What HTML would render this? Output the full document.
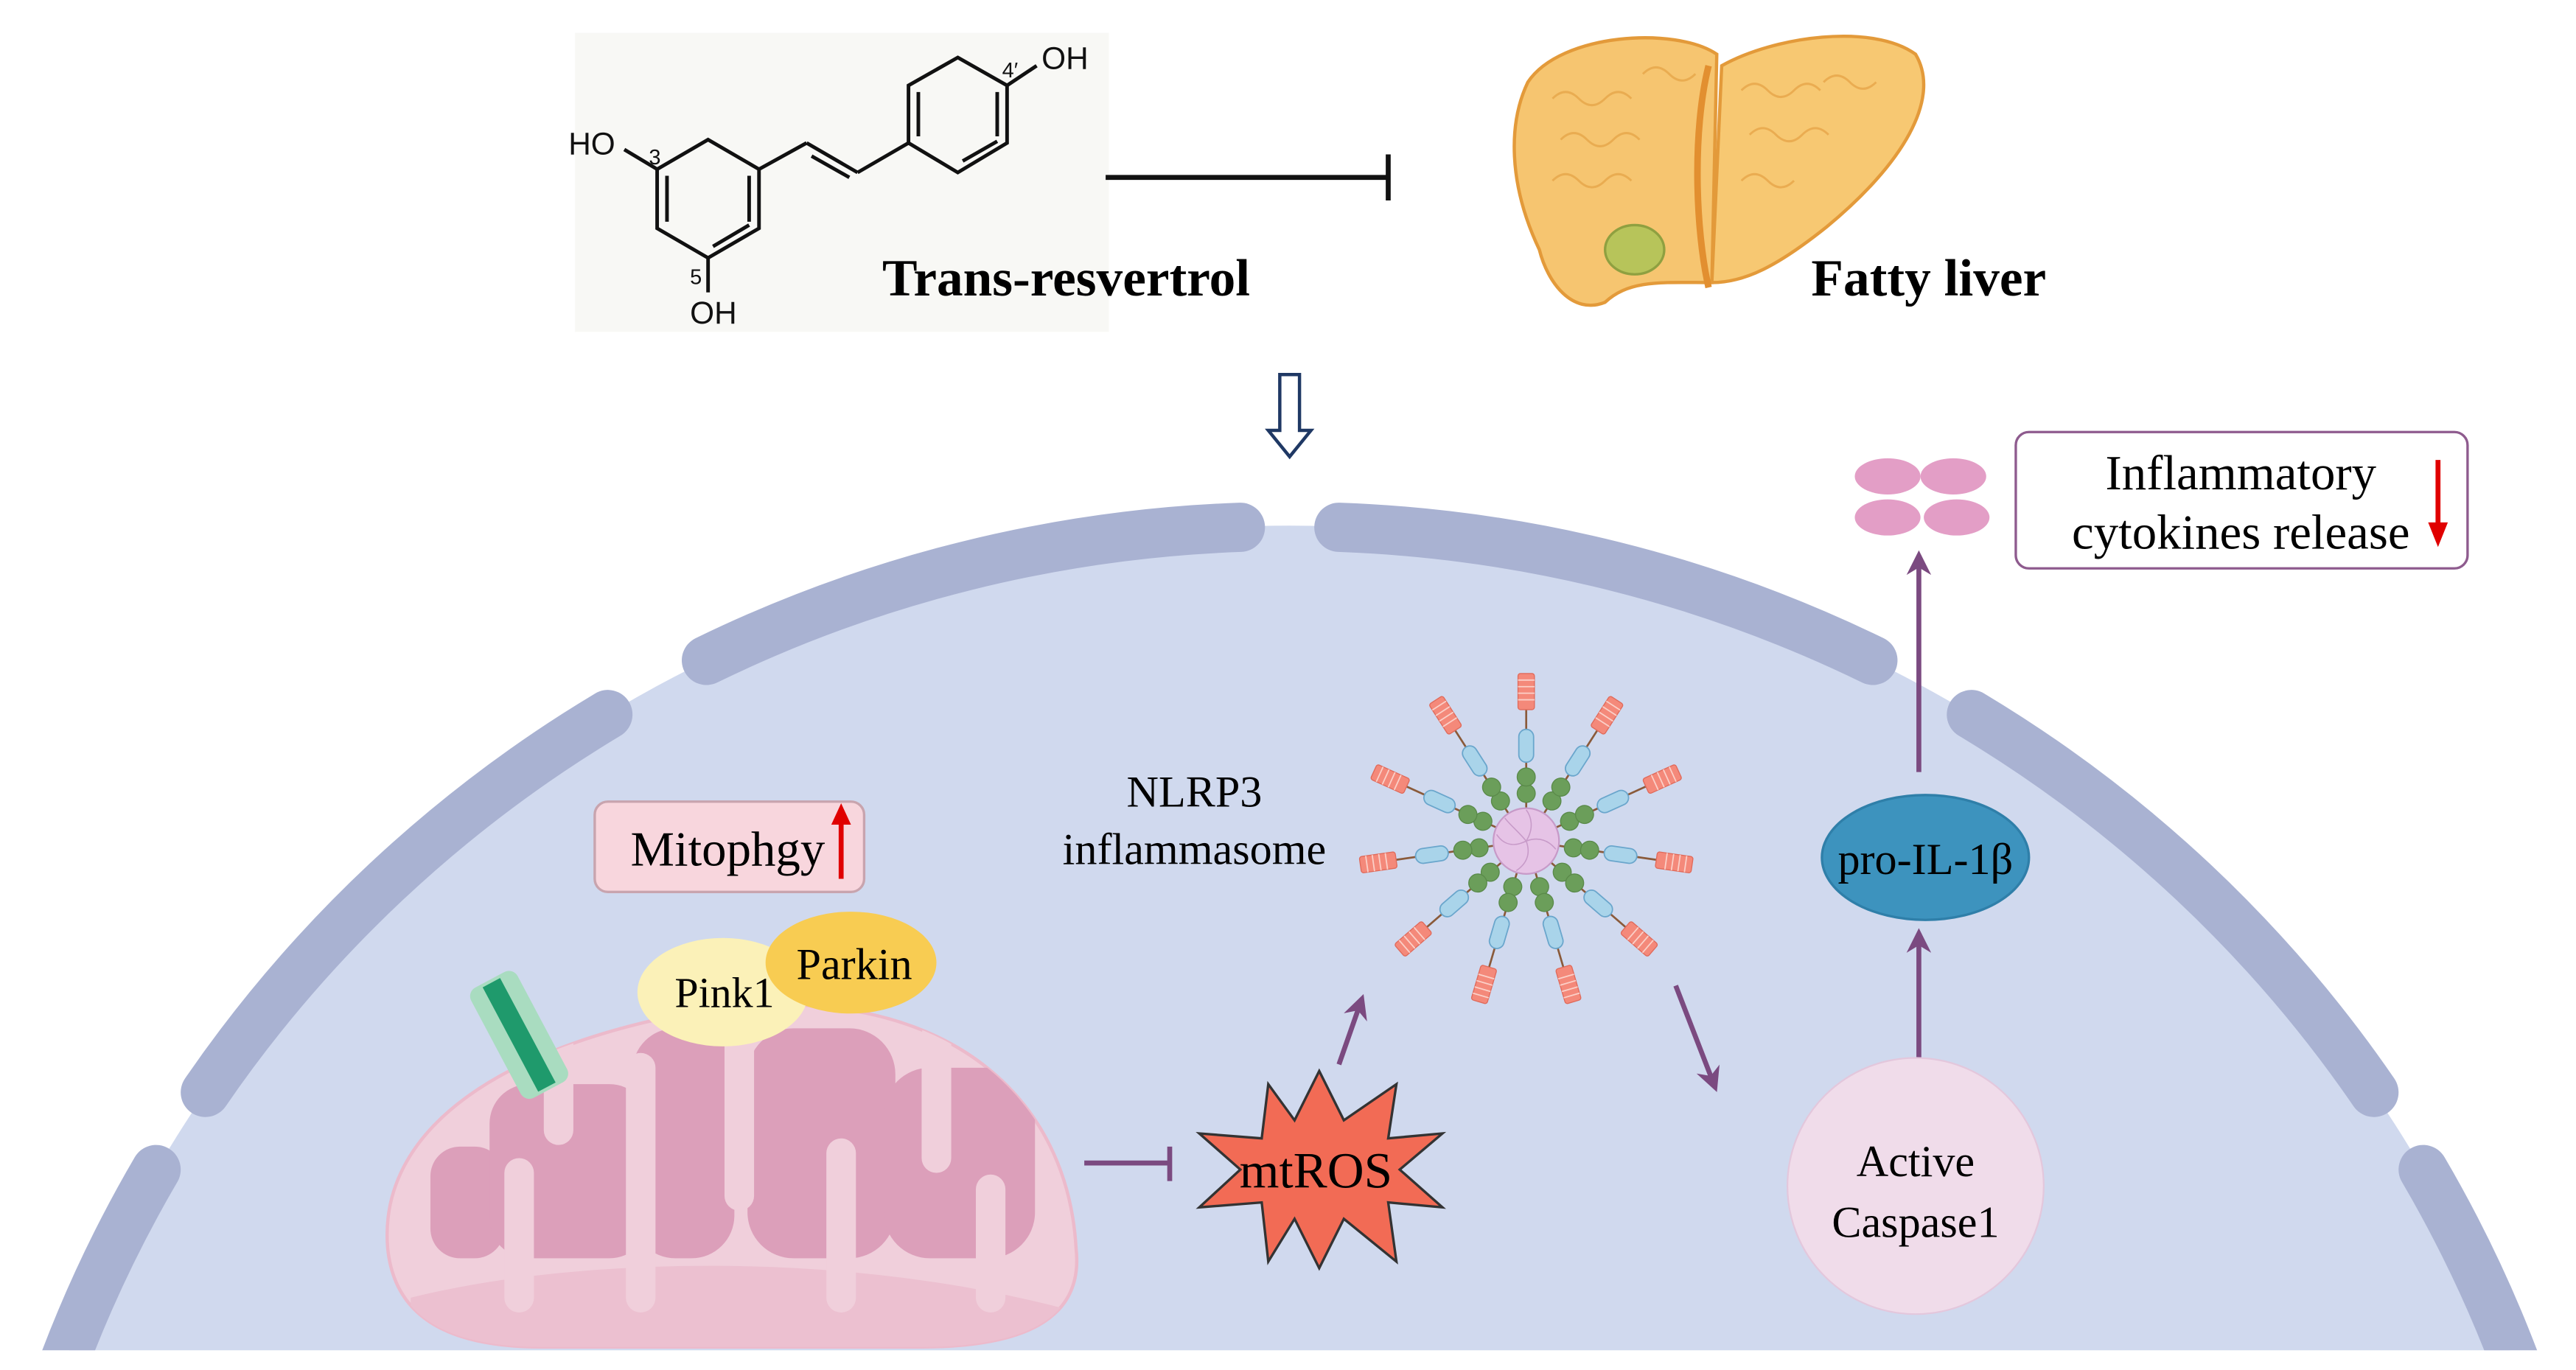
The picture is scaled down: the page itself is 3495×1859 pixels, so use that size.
<!DOCTYPE html>
<html><head><meta charset="utf-8"><style>html,body{margin:0;padding:0;background:#fff;width:3495px;height:1859px;overflow:hidden}svg{display:block}</style></head>
<body>
<svg width="3495" height="1859" viewBox="0 0 1568 834" xmlns="http://www.w3.org/2000/svg" font-family="'Liberation Serif', serif">
<defs>
<clipPath id="cl"><rect x="0" y="0" width="1568" height="822"/></clipPath>
<clipPath id="mc"><path d="M236,760 C230,690 300,635 440,613 C580,600 650,670 655,760 C660,805 620,820 560,820 L330,820 C270,820 240,800 236,760 z"/></clipPath>
<marker id="pa" viewBox="0 0 10 10" refX="8" refY="5" markerWidth="5" markerHeight="5" orient="auto"><path d="M0,0 L10,5 L0,10 L3,5 z" fill="#7b4a80"/></marker>
<g id="spoke">
<line x1="0" y1="0" x2="0" y2="-92" stroke="#8a5a3a" stroke-width="1.2"/>
<circle cx="0" cy="-29" r="5.5" fill="#6b9e5a" stroke="#5a8a4a" stroke-width="0.6"/>
<circle cx="0" cy="-39" r="5.5" fill="#6b9e5a" stroke="#5a8a4a" stroke-width="0.6"/>
<rect x="-4.5" y="-68" width="9" height="20" rx="4.5" fill="#a9d4ea" stroke="#6aa6cc" stroke-width="0.8"/>
<rect x="-5" y="-102" width="10" height="22" rx="1.5" fill="#f4897a" stroke="#e06a5a" stroke-width="0.6"/>
<g stroke="#fbd0c8" stroke-width="0.8"><line x1="-5" y1="-98" x2="5" y2="-98"/><line x1="-5" y1="-94" x2="5" y2="-94"/><line x1="-5" y1="-90" x2="5" y2="-90"/><line x1="-5" y1="-86" x2="5" y2="-86"/></g>
</g>
</defs>

<g clip-path="url(#cl)">
<ellipse cx="785" cy="1100" rx="795" ry="780" fill="#d0d9ee"/>
<g fill="none" stroke="#a9b2d2" stroke-width="30" stroke-linecap="round">
<path d="M430,402 A795,780 0 0 1 755,321"/>
<path d="M815,321 A795,780 0 0 1 1140,402"/>
<path d="M125,665 A795,780 0 0 1 370,435"/>
<path d="M1200,435 A795,780 0 0 1 1445,665"/>
<path d="M35,840 A795,780 0 0 1 95,712"/>
<path d="M1475,712 A795,780 0 0 1 1535,840"/>
</g>

<path d="M236,760 C230,690 300,635 440,613 C580,600 650,670 655,760 C660,805 620,820 560,820 L330,820 C270,820 240,800 236,760 z" fill="#f0cfdb" stroke="#ecbacb" stroke-width="2"/>
<g clip-path="url(#mc)">
<path d="M250,790 C350,765 520,760 660,800 L660,830 L250,830 z" fill="#ecc0d0"/>
<g fill="#dc9fba">
<rect x="262" y="698" width="45" height="68" rx="18"/>
<rect x="298" y="660" width="97" height="106" rx="24"/>
<rect x="385" y="626" width="62" height="140" rx="26"/>
<rect x="455" y="626" width="90" height="140" rx="28"/>
<rect x="538" y="650" width="92" height="116" rx="28"/>
</g>
<g stroke="#f0cfdb" stroke-width="18" stroke-linecap="round">
<line x1="340" y1="630" x2="340" y2="688"/>
<line x1="450" y1="630" x2="450" y2="728"/>
<line x1="570" y1="630" x2="570" y2="705"/>
<line x1="316" y1="790" x2="316" y2="714"/>
<line x1="390" y1="790" x2="390" y2="650"/>
<line x1="512" y1="790" x2="512" y2="702"/>
<line x1="603" y1="790" x2="603" y2="724"/>
</g>
</g>
<g transform="translate(316,630) rotate(-28)">
<rect x="-16" y="-38" width="32" height="76" rx="6" fill="#a9dcc0"/>
<rect x="-6" y="-36" width="12" height="72" fill="#1f9a6c"/>
</g>
<ellipse cx="440" cy="604" rx="52" ry="33" fill="#fbf1b8"/>
<ellipse cx="518" cy="586" rx="52" ry="31" fill="#f8cc52"/>
<text x="441" y="613" font-size="26" text-anchor="middle">Pink1</text>
<text x="520" y="596" font-size="27" text-anchor="middle">Parkin</text>

<rect x="362" y="488" width="164" height="55" rx="8" fill="#f8d6dd" stroke="#c8a4ae" stroke-width="1.5"/>
<text x="443" y="527" font-size="30" text-anchor="middle">Mitophgy</text>
<line x1="512" y1="535" x2="512" y2="498" stroke="#e00000" stroke-width="3"/>
<path d="M506,502 L512,489 L518,502 z" fill="#e00000"/>

<line x1="660" y1="708" x2="712" y2="708" stroke="#7b4a80" stroke-width="3"/>
<line x1="712" y1="698" x2="712" y2="719" stroke="#7b4a80" stroke-width="3"/>

<polygon points="803,652 818,682 850,660 845,693 878,690 852,712 878,735 845,732 850,768 818,742 803,772 788,742 772,768 768,732 730,735 755,712 730,690 768,693 772,660 788,682" fill="#f26b55" stroke="#333" stroke-width="1.5"/>
<text x="801" y="723" font-size="31" text-anchor="middle">mtROS</text>

<line x1="815" y1="648" x2="829" y2="608" stroke="#7b4a80" stroke-width="3" marker-end="url(#pa)"/>
<line x1="1020" y1="600" x2="1044" y2="662" stroke="#7b4a80" stroke-width="3" marker-end="url(#pa)"/>
<line x1="1168" y1="665" x2="1168" y2="568" stroke="#7b4a80" stroke-width="3" marker-end="url(#pa)"/>
<line x1="1168" y1="470" x2="1168" y2="338" stroke="#7b4a80" stroke-width="3" marker-end="url(#pa)"/>

<text x="727" y="491" font-size="27" text-anchor="middle">NLRP3</text>
<text x="727" y="526" font-size="27" text-anchor="middle">inflammasome</text>
<g transform="translate(929,512)">
<use href="#spoke" transform="rotate(0)"/>
<use href="#spoke" transform="rotate(32.7)"/>
<use href="#spoke" transform="rotate(65.5)"/>
<use href="#spoke" transform="rotate(98.2)"/>
<use href="#spoke" transform="rotate(130.9)"/>
<use href="#spoke" transform="rotate(163.6)"/>
<use href="#spoke" transform="rotate(196.4)"/>
<use href="#spoke" transform="rotate(229.1)"/>
<use href="#spoke" transform="rotate(261.8)"/>
<use href="#spoke" transform="rotate(294.5)"/>
<use href="#spoke" transform="rotate(327.3)"/>
<circle r="20" fill="#e6c3e6" stroke="#c79ac8" stroke-width="1"/>
<g stroke="#c79ac8" stroke-width="0.7" fill="none"><path d="M0,0 C5,-8 3,-15 0,-19"/><path d="M0,0 C8,-3 14,0 18,5"/><path d="M0,0 C3,8 0,14 -6,18"/><path d="M0,0 C-8,4 -14,2 -18,-4"/><path d="M0,0 C-5,-6 -10,-10 -13,-14"/></g>
</g>

<ellipse cx="1172" cy="522" rx="63" ry="38" fill="#3d93be" stroke="#2f7fa9" stroke-width="1.5"/>
<text x="1172" y="532" font-size="27" text-anchor="middle">pro-IL-1β</text>

<circle cx="1166" cy="722" r="78" fill="#f0dcea" stroke="#e3c7dc" stroke-width="1"/>
<text x="1166" y="716" font-size="27" text-anchor="middle">Active</text>
<text x="1166" y="753" font-size="27" text-anchor="middle">Caspase1</text>
</g>

<g fill="#e39ec6">
<ellipse cx="1149" cy="290" rx="20" ry="11"/><ellipse cx="1189" cy="290" rx="20" ry="11"/>
<ellipse cx="1149" cy="315" rx="20" ry="11"/><ellipse cx="1191" cy="315" rx="20" ry="11"/>
</g>
<rect x="1227" y="263" width="275" height="83" rx="8" fill="#fff" stroke="#8e5b8e" stroke-width="1.5"/>
<text x="1364" y="298" font-size="30" text-anchor="middle">Inflammatory</text>
<text x="1364" y="334" font-size="30" text-anchor="middle">cytokines release</text>
<line x1="1484" y1="280" x2="1484" y2="322" stroke="#e00000" stroke-width="3"/>
<path d="M1478,318 L1484,333 L1490,318 z" fill="#e00000"/>

<path d="M779,228 L791,228 L791,262 L798,262 L785,278 L772,262 L779,262 z" fill="#fff" stroke="#1f3864" stroke-width="2"/>

<rect x="350" y="20" width="325" height="182" fill="#f8f8f5"/>
<g stroke="#111" stroke-width="2.2" fill="none">
<polygon points="431,85 462,103 462,139 431,157 400,139 400,103"/>
<line x1="406" y1="107" x2="406" y2="135"/>
<line x1="456" y1="107" x2="456" y2="135"/>
<line x1="434" y1="150" x2="456" y2="137"/>
<line x1="400" y1="103" x2="380" y2="91"/>
<line x1="431" y1="157" x2="431" y2="178"/>
<line x1="462" y1="103" x2="491" y2="87"/>
<line x1="491" y1="87" x2="522" y2="105"/>
<line x1="494" y1="95" x2="517" y2="108"/>
<line x1="522" y1="105" x2="553" y2="87"/>
<polygon points="583,35 613,52 613,87 583,105 553,87 553,52"/>
<line x1="559" y1="56" x2="559" y2="83"/>
<line x1="607" y1="56" x2="607" y2="83"/>
<line x1="586" y1="98" x2="607" y2="86"/>
<line x1="613" y1="52" x2="631" y2="40"/>
</g>
<g font-family="'Liberation Sans', sans-serif" fill="#111">
<text x="346" y="94" font-size="19">HO</text>
<text x="395" y="100" font-size="13">3</text>
<text x="420" y="197" font-size="19">OH</text>
<text x="420" y="173" font-size="13">5</text>
<text x="634" y="42" font-size="19">OH</text>
<text x="610" y="47" font-size="13">4′</text>
</g>
<text x="649" y="180" font-size="32" font-weight="bold" text-anchor="middle">Trans-resvertrol</text>

<line x1="673" y1="108" x2="845" y2="108" stroke="#111" stroke-width="3"/>
<line x1="845" y1="94" x2="845" y2="122" stroke="#111" stroke-width="3"/>

<path d="M930,50 C950,20 1020,16 1045,33 L1042,172 C1012,172 992,170 977,184 C957,192 942,172 937,152 C918,112 918,75 930,50 z" fill="#f6c570" stroke="#e39a3a" stroke-width="2"/>
<path d="M1048,40 C1080,22 1140,14 1166,33 C1182,60 1158,100 1112,138 C1082,162 1062,172 1042,172 z" fill="#f7c872" stroke="#e39a3a" stroke-width="2"/>
<path d="M1040,40 C1030,80 1032,140 1040,175" fill="none" stroke="#e28f30" stroke-width="4"/>
<g fill="none" stroke="#e8a84e" stroke-width="1.3" opacity="0.9">
<path d="M945,60 q8,-8 16,0 q8,8 16,0 q8,-8 16,0 M950,85 q8,-8 16,0 q8,8 16,0 q8,-8 16,0 M945,110 q8,-8 16,0 q8,8 16,0 q8,-8 16,0 M1060,55 q8,-8 16,0 q8,8 16,0 q8,-8 16,0 M1065,82 q8,-8 16,0 q8,8 16,0 q8,-8 16,0 M1060,110 q8,-8 16,0 q8,8 16,0 M1110,50 q8,-8 16,0 q8,8 16,0 M1000,45 q8,-8 16,0 q8,8 16,0"/>
</g>
<ellipse cx="995" cy="152" rx="18" ry="15" fill="#b7c45a" stroke="#8fa040" stroke-width="1.5"/>
<text x="1174" y="180" font-size="32" font-weight="bold" text-anchor="middle">Fatty liver</text>
</svg>
</body></html>
